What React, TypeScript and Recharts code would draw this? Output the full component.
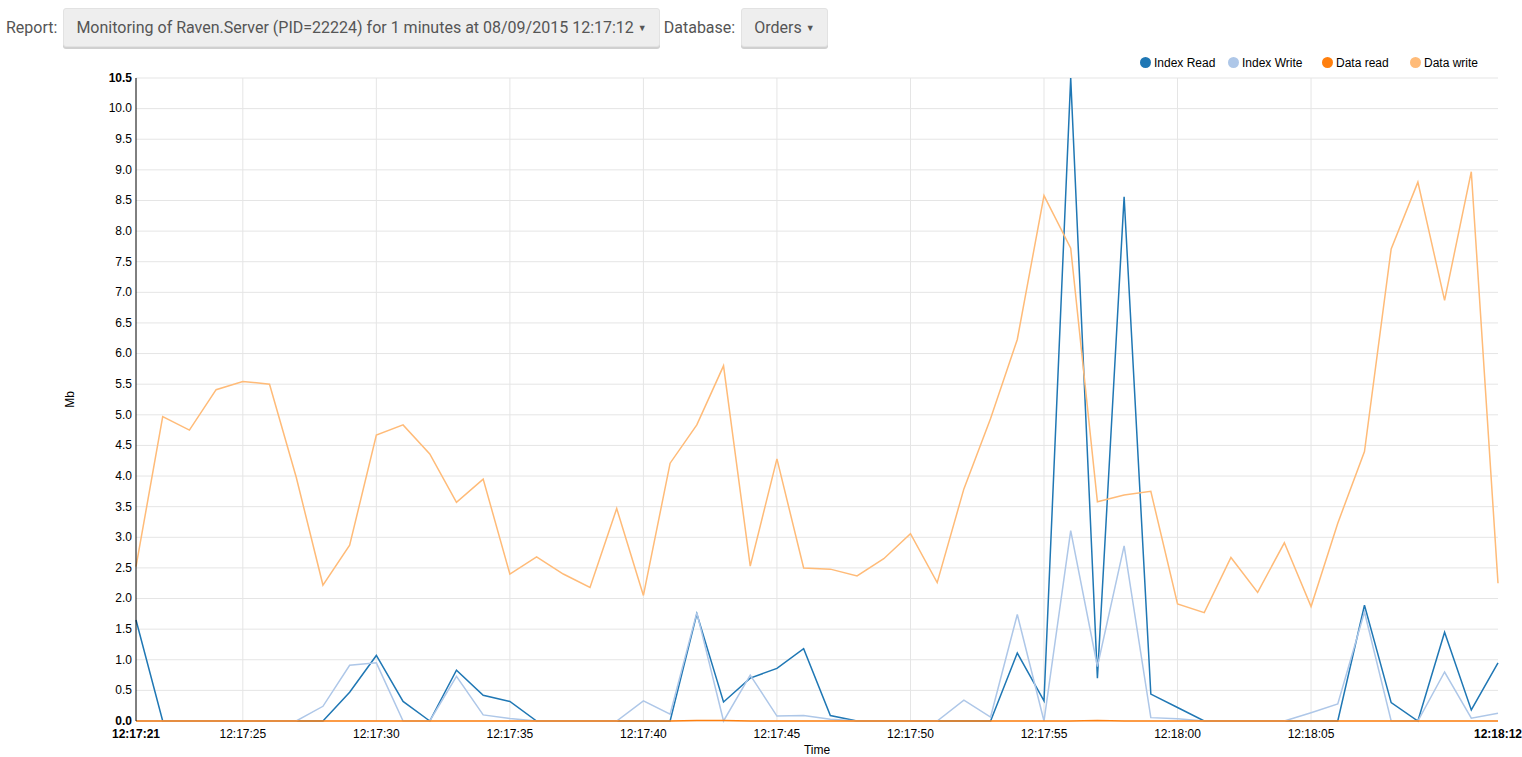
import { CartesianGrid, Label, Line, LineChart, ReferenceLine, XAxis, YAxis } from "recharts";

// one sample per second, 12:17:21 -> 12:18:12
const times = [
  "12:17:21", "12:17:22", "12:17:23", "12:17:24", "12:17:25", "12:17:26", "12:17:27", "12:17:28",
  "12:17:29", "12:17:30", "12:17:31", "12:17:32", "12:17:33", "12:17:34", "12:17:35", "12:17:36",
  "12:17:37", "12:17:38", "12:17:39", "12:17:40", "12:17:41", "12:17:42", "12:17:43", "12:17:44",
  "12:17:45", "12:17:46", "12:17:47", "12:17:48", "12:17:49", "12:17:50", "12:17:51", "12:17:52",
  "12:17:53", "12:17:54", "12:17:55", "12:17:56", "12:17:57", "12:17:58", "12:17:59", "12:18:00",
  "12:18:01", "12:18:02", "12:18:03", "12:18:04", "12:18:05", "12:18:06", "12:18:07", "12:18:08",
  "12:18:09", "12:18:10", "12:18:11", "12:18:12",
];

const indexRead = [
  1.65, 0, 0, 0, 0, 0, 0, 0, 0.47, 1.07, 0.32, 0, 0.83, 0.42, 0.32, 0,
  0, 0, 0, 0, 0, 1.75, 0.31, 0.7, 0.86, 1.18, 0.09, 0, 0, 0, 0, 0,
  0, 1.11, 0.33, 10.5, 0.7, 8.56, 0.44, 0.22, 0, 0, 0, 0, 0, 0, 1.89, 0.3,
  0, 1.45, 0.18, 0.95,
];

const indexWrite = [
  0, 0, 0, 0, 0, 0, 0, 0.24, 0.91, 0.95, 0, 0, 0.73, 0.1, 0.04, 0,
  0, 0, 0, 0.33, 0.11, 1.77, 0, 0.75, 0.08, 0.09, 0.03, 0, 0, 0, 0, 0.34,
  0.065, 1.74, 0, 3.11, 0.89, 2.86, 0.055, 0.035, 0, 0, 0, 0, 0.135, 0.28, 1.78, 0,
  0, 0.8, 0.045, 0.125,
];

const dataRead = [
  0, 0, 0, 0, 0, 0, 0, 0, 0, 0, 0, 0, 0, 0, 0, 0,
  0, 0, 0, 0, 0, 0.01, 0.01, 0, 0, 0, 0, 0, 0, 0, 0, 0,
  0, 0, 0, 0, 0.01, 0, 0, 0, 0, 0, 0, 0, 0, 0, 0, 0,
  0, 0, 0, 0,
];

const dataWrite = [
  2.52, 4.97, 4.75, 5.41, 5.545, 5.5, 3.98, 2.22, 2.87, 4.67, 4.835, 4.36, 3.57, 3.95, 2.4, 2.68,
  2.4, 2.18, 3.47, 2.05, 4.21, 4.835, 5.8, 2.53, 4.28, 2.5, 2.48, 2.37, 2.65, 3.06, 2.26, 3.79,
  4.94, 6.23, 8.58, 7.72, 3.58, 3.69, 3.75, 1.91, 1.77, 2.67, 2.1, 2.91, 1.87, 3.23, 4.4, 7.71,
  8.8, 6.87, 8.97, 2.25,
];

// x positions (seconds since first sample) that get a label
const xTicks = [0, 4, 9, 14, 19, 24, 29, 34, 39, 44, 51];
const yTicks = [0, 0.5, 1, 1.5, 2, 2.5, 3, 3.5, 4, 4.5, 5, 5.5, 6, 6.5, 7, 7.5, 8, 8.5, 9, 9.5, 10, 10.5];

const series = [
  { key: "indexRead", label: "Index Read", color: "#1f77b4" },
  { key: "indexWrite", label: "Index Write", color: "#aec7e8" },
  { key: "dataRead", label: "Data read", color: "#ff7f0e" },
  { key: "dataWrite", label: "Data write", color: "#ffbb78" },
];
const legendWidths = [88, 94, 88, 70];

const rows = times.map((t, i) => ({
  x: i,
  time: t,
  indexRead: indexRead[i],
  indexWrite: indexWrite[i],
  dataRead: dataRead[i],
  dataWrite: dataWrite[i],
}));

const FONT = "'Liberation Sans', Arial, sans-serif";
const LAST = times.length - 1;

function XTick(props: any) {
  const { x, y, payload } = props;
  const edge = payload.value === 0 || payload.value === LAST;
  return (
    <text x={x} y={y} dy="0.71em" textAnchor="middle" fontSize={12} fontFamily={FONT}
      fontWeight={edge ? "bold" : "normal"} fill="#000">
      {times[payload.value]}
    </text>
  );
}

function YTick(props: any) {
  const { x, y, payload } = props;
  const edge = payload.value === 0 || payload.value === 10.5;
  return (
    <text x={x} y={y} dy="0.32em" textAnchor="end" fontSize={12} fontFamily={FONT}
      fontWeight={edge ? "bold" : "normal"} fill="#000">
      {Number(payload.value).toFixed(1)}
    </text>
  );
}

function Dropdown({ text }: { text: string }) {
  return (
    <span
      style={{
        display: "inline-block",
        background: "#eeeeee",
        border: "1px solid #e2e2e2",
        borderRadius: 3,
        boxShadow: "0 2px 0 #d0d0d0",
        padding: "0 12px",
        height: 37,
        lineHeight: "37px",
        color: "#555",
        marginLeft: 6,
        marginRight: 4,
      }}
    >
      {text} <span style={{ fontSize: 9, position: "relative", top: -2 }}>▼</span>
    </span>
  );
}

export default function App() {
  return (
    <div style={{ position: "absolute", left: 0, top: 0, width: 1522, height: 757, background: "#fff", overflow: "hidden" }}>
      <div style={{ position: "absolute", left: 6, top: 8, fontFamily: "Roboto, sans-serif", fontSize: 16, color: "#555", whiteSpace: "nowrap" }}>
        Report:
        <Dropdown text="Monitoring of Raven.Server (PID=22224) for 1 minutes at 08/09/2015 12:17:12" />
        Database:
        <Dropdown text="Orders" />
      </div>

      <div style={{ position: "absolute", left: 1140, top: 55, display: "flex", fontFamily: FONT, fontSize: 12, color: "#000" }}>
        {series.map((s, i) => (
          <div key={s.key} style={{ width: legendWidths[i], display: "flex", alignItems: "center", height: 15 }}>
            <span style={{ width: 11, height: 11, borderRadius: 6, background: s.color, marginRight: 3, flexShrink: 0 }} />
            {s.label}
          </div>
        ))}
      </div>

      <div style={{ position: "absolute", left: 0, top: 0 }}>
        <LineChart width={1522} height={757} data={rows} margin={{ top: 78, right: 24, bottom: 0, left: 60 }}>
          <CartesianGrid vertical={false} stroke="#e5e5e5" />
          {xTicks.slice(1, -1).map((t) => (
            <ReferenceLine key={t} x={t} stroke="#e5e5e5" />
          ))}
          <XAxis
            dataKey="x"
            type="number"
            domain={[0, LAST]}
            ticks={xTicks}
            interval={0}
            height={36}
            axisLine={false}
            tickLine={false}
            tickSize={0}
            tickMargin={8}
            tick={<XTick />}
          >
            <Label value="Time" position="insideBottom" offset={3} fontSize={12} fontFamily={FONT} fill="#000" />
          </XAxis>
          <YAxis
            type="number"
            domain={[0, 10.5]}
            ticks={yTicks}
            interval={0}
            width={76}
            axisLine={{ stroke: "#000", strokeWidth: 1 }}
            tickLine={false}
            tickSize={0}
            tickMargin={4}
            tick={<YTick />}
          >
            <Label
              content={({ viewBox }: any) => {
                const cx = viewBox.x + 10;
                const cy = viewBox.y + viewBox.height / 2;
                return (
                  <text x={cx} y={cy} transform={`rotate(-90 ${cx} ${cy})`} textAnchor="middle" dy="0.32em"
                    fontSize={12} fontFamily={FONT} fill="#000">
                    Mb
                  </text>
                );
              }}
            />
          </YAxis>
          {series.map((s) => (
            <Line
              key={s.key}
              type="linear"
              dataKey={s.key}
              name={s.label}
              stroke={s.color}
              strokeWidth={1.5}
              dot={false}
              activeDot={false}
              isAnimationActive={false}
            />
          ))}
        </LineChart>
      </div>
    </div>
  );
}
